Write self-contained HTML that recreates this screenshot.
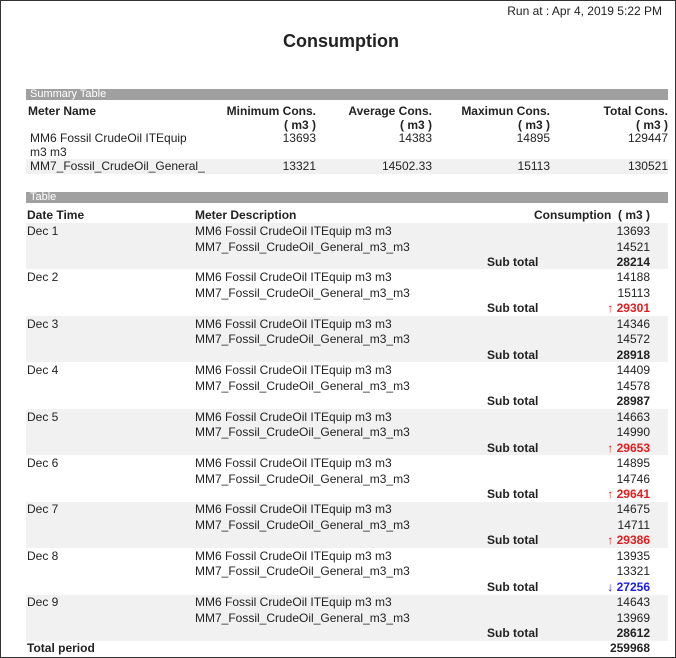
<!DOCTYPE html>
<html><head><meta charset="utf-8"><style>
body{margin:0;width:676px;height:658px;background:#fff;overflow:hidden;font-family:"Liberation Sans",Arial,sans-serif;font-size:12px;color:#222;position:relative}
.frame{position:absolute;left:0;top:0;width:674px;height:656px;border:1px solid #333}
.a{position:absolute;white-space:nowrap;line-height:14px}
.r{text-align:right}
.b{font-weight:bold}
.bar{position:absolute;left:26px;width:642px;height:11px;background:#a0a0a0;color:#fff;font-size:11px;line-height:11px;padding-left:4px;box-sizing:border-box}
.g{position:absolute;left:26px;width:642px;height:46px;background:#f1f1f1}
.red{color:#e02020}.blue{color:#2020e0}
</style></head><body>
<div class="frame"></div>
<div class="a r" style="right:14px;top:4px;width:300px">Run at : Apr 4, 2019 5:22 PM</div>
<div class="a b" style="left:0;width:682px;text-align:center;top:30px;font-size:18px;line-height:22px">Consumption</div>

<div class="bar" style="top:89px">Summary Table</div>
<div class="a b" style="left:28px;top:104px">Meter Name</div>
<div class="a b r" style="left:216px;width:100px;top:104px">Minimum Cons.<br>( m3 )</div>
<div class="a b r" style="left:332px;width:100px;top:104px">Average Cons.<br>( m3 )</div>
<div class="a b r" style="left:450px;width:100px;top:104px">Maximun Cons.<br>( m3 )</div>
<div class="a b r" style="left:568px;width:100px;top:104px">Total Cons.<br>( m3 )</div>
<div style="position:absolute;left:26px;top:159px;width:642px;height:15px;background:#f1f1f1"></div>
<div class="a" style="left:30px;top:131px">MM6 Fossil CrudeOil ITEquip<br>m3 m3</div>
<div class="a r" style="left:216px;width:100px;top:131px">13693</div>
<div class="a r" style="left:332px;width:100px;top:131px">14383</div>
<div class="a r" style="left:450px;width:100px;top:131px">14895</div>
<div class="a r" style="left:568px;width:100px;top:131px">129447</div>
<div class="a" style="left:30px;top:159px">MM7_Fossil_CrudeOil_General_</div>
<div class="a r" style="left:216px;width:100px;top:159px">13321</div>
<div class="a r" style="left:332px;width:100px;top:159px">14502.33</div>
<div class="a r" style="left:450px;width:100px;top:159px">15113</div>
<div class="a r" style="left:568px;width:100px;top:159px">130521</div>

<div class="bar" style="top:192px">Table</div>
<div class="a b" style="left:27px;top:208px">Date Time</div>
<div class="a b" style="left:195px;top:208px">Meter Description</div>
<div class="a b r" style="left:450px;width:200px;top:208px">Consumption &nbsp;( m3 )</div>

<div class="g" style="top:223px"></div>
<div class="g" style="top:316px"></div>
<div class="g" style="top:409px"></div>
<div class="g" style="top:502px"></div>
<div class="g" style="top:595px"></div>

<!-- groups -->
<div style="position:absolute;left:0;top:224px;width:676px">
<div class="a" style="left:27px;top:0">Dec 1</div><div class="a" style="left:195px;top:0">MM6 Fossil CrudeOil ITEquip m3 m3</div><div class="a" style="left:195px;top:15.5px">MM7_Fossil_CrudeOil_General_m3_m3</div><div class="a r" style="left:550px;width:100px;top:0">13693</div><div class="a r" style="left:550px;width:100px;top:15.5px">14521</div><div class="a b" style="left:487px;top:31px">Sub total</div><div class="a b r" style="left:550px;width:100px;top:31px">28214</div>
</div>
<div style="position:absolute;left:0;top:270.4px;width:676px">
<div class="a" style="left:27px;top:0">Dec 2</div><div class="a" style="left:195px;top:0">MM6 Fossil CrudeOil ITEquip m3 m3</div><div class="a" style="left:195px;top:15.5px">MM7_Fossil_CrudeOil_General_m3_m3</div><div class="a r" style="left:550px;width:100px;top:0">14188</div><div class="a r" style="left:550px;width:100px;top:15.5px">15113</div><div class="a b" style="left:487px;top:31px">Sub total</div><div class="a b r red" style="left:550px;width:100px;top:31px"><span style="font-weight:normal">↑</span> 29301</div>
</div>
<div style="position:absolute;left:0;top:316.8px;width:676px">
<div class="a" style="left:27px;top:0">Dec 3</div><div class="a" style="left:195px;top:0">MM6 Fossil CrudeOil ITEquip m3 m3</div><div class="a" style="left:195px;top:15.5px">MM7_Fossil_CrudeOil_General_m3_m3</div><div class="a r" style="left:550px;width:100px;top:0">14346</div><div class="a r" style="left:550px;width:100px;top:15.5px">14572</div><div class="a b" style="left:487px;top:31px">Sub total</div><div class="a b r" style="left:550px;width:100px;top:31px">28918</div>
</div>
<div style="position:absolute;left:0;top:363.2px;width:676px">
<div class="a" style="left:27px;top:0">Dec 4</div><div class="a" style="left:195px;top:0">MM6 Fossil CrudeOil ITEquip m3 m3</div><div class="a" style="left:195px;top:15.5px">MM7_Fossil_CrudeOil_General_m3_m3</div><div class="a r" style="left:550px;width:100px;top:0">14409</div><div class="a r" style="left:550px;width:100px;top:15.5px">14578</div><div class="a b" style="left:487px;top:31px">Sub total</div><div class="a b r" style="left:550px;width:100px;top:31px">28987</div>
</div>
<div style="position:absolute;left:0;top:409.6px;width:676px">
<div class="a" style="left:27px;top:0">Dec 5</div><div class="a" style="left:195px;top:0">MM6 Fossil CrudeOil ITEquip m3 m3</div><div class="a" style="left:195px;top:15.5px">MM7_Fossil_CrudeOil_General_m3_m3</div><div class="a r" style="left:550px;width:100px;top:0">14663</div><div class="a r" style="left:550px;width:100px;top:15.5px">14990</div><div class="a b" style="left:487px;top:31px">Sub total</div><div class="a b r red" style="left:550px;width:100px;top:31px"><span style="font-weight:normal">↑</span> 29653</div>
</div>
<div style="position:absolute;left:0;top:456px;width:676px">
<div class="a" style="left:27px;top:0">Dec 6</div><div class="a" style="left:195px;top:0">MM6 Fossil CrudeOil ITEquip m3 m3</div><div class="a" style="left:195px;top:15.5px">MM7_Fossil_CrudeOil_General_m3_m3</div><div class="a r" style="left:550px;width:100px;top:0">14895</div><div class="a r" style="left:550px;width:100px;top:15.5px">14746</div><div class="a b" style="left:487px;top:31px">Sub total</div><div class="a b r red" style="left:550px;width:100px;top:31px"><span style="font-weight:normal">↑</span> 29641</div>
</div>
<div style="position:absolute;left:0;top:502.4px;width:676px">
<div class="a" style="left:27px;top:0">Dec 7</div><div class="a" style="left:195px;top:0">MM6 Fossil CrudeOil ITEquip m3 m3</div><div class="a" style="left:195px;top:15.5px">MM7_Fossil_CrudeOil_General_m3_m3</div><div class="a r" style="left:550px;width:100px;top:0">14675</div><div class="a r" style="left:550px;width:100px;top:15.5px">14711</div><div class="a b" style="left:487px;top:31px">Sub total</div><div class="a b r red" style="left:550px;width:100px;top:31px"><span style="font-weight:normal">↑</span> 29386</div>
</div>
<div style="position:absolute;left:0;top:548.8px;width:676px">
<div class="a" style="left:27px;top:0">Dec 8</div><div class="a" style="left:195px;top:0">MM6 Fossil CrudeOil ITEquip m3 m3</div><div class="a" style="left:195px;top:15.5px">MM7_Fossil_CrudeOil_General_m3_m3</div><div class="a r" style="left:550px;width:100px;top:0">13935</div><div class="a r" style="left:550px;width:100px;top:15.5px">13321</div><div class="a b" style="left:487px;top:31px">Sub total</div><div class="a b r blue" style="left:550px;width:100px;top:31px"><span style="font-weight:normal">↓</span> 27256</div>
</div>
<div style="position:absolute;left:0;top:595.2px;width:676px">
<div class="a" style="left:27px;top:0">Dec 9</div><div class="a" style="left:195px;top:0">MM6 Fossil CrudeOil ITEquip m3 m3</div><div class="a" style="left:195px;top:15.5px">MM7_Fossil_CrudeOil_General_m3_m3</div><div class="a r" style="left:550px;width:100px;top:0">14643</div><div class="a r" style="left:550px;width:100px;top:15.5px">13969</div><div class="a b" style="left:487px;top:31px">Sub total</div><div class="a b r" style="left:550px;width:100px;top:31px">28612</div>
</div>
<div class="a b" style="left:27px;top:641px">Total period</div>
<div class="a b r" style="left:550px;width:100px;top:641px">259968</div>
</body></html>
